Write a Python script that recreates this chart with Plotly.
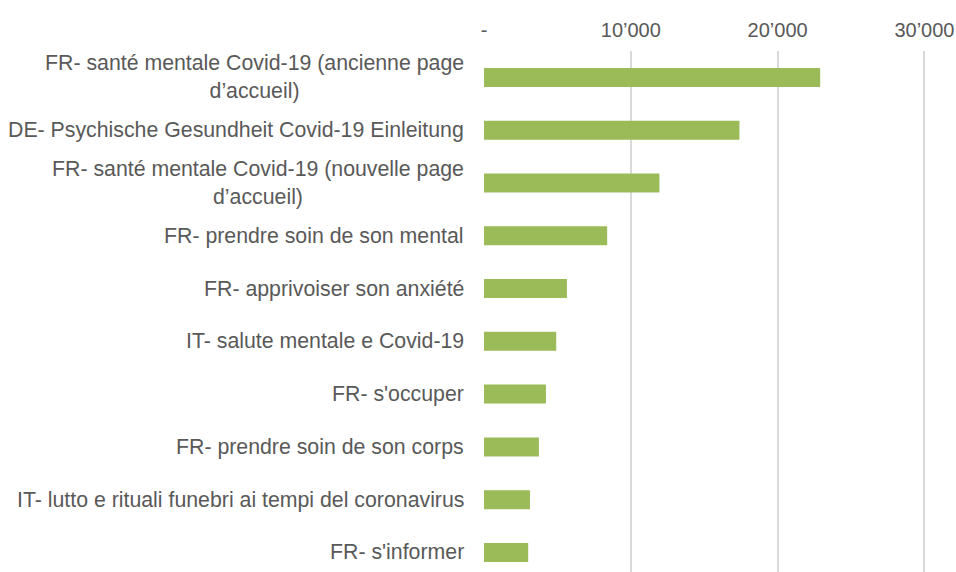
import plotly.graph_objects as go

categories = [
    "FR- santé mentale Covid-19 (ancienne page<br>d’accueil)",
    "DE- Psychische Gesundheit Covid-19 Einleitung",
    "FR- santé mentale Covid-19 (nouvelle page<br>d’accueil)",
    "FR- prendre soin de son mental",
    "FR- apprivoiser son anxiété",
    "IT- salute mentale e Covid-19",
    "FR- s'occuper",
    "FR- prendre soin de son corps",
    "IT- lutto e rituali funebri ai tempi del coronavirus",
    "FR- s'informer",
]
values = [22900, 17400, 11950, 8390, 5650, 4920, 4220, 3740, 3130, 3010]
tick_vals = [0, 10000, 20000, 30000]
tick_text = ["-", "10’000", "20’000", "30’000"]

FONT = "Liberation Sans, Arial, sans-serif"
TXT = "#595959"

fig = go.Figure()
fig.add_trace(go.Bar(
    x=values, y=list(range(len(categories))), orientation="h",
    marker=dict(color="#9BBB59", line=dict(width=0)),
    width=0.36,
))

for i, c in enumerate(categories):
    fig.add_annotation(
        x=0, xref="paper", y=i, yref="y", text=c, showarrow=False,
        xanchor="right", yanchor="middle", align="center", xshift=-18,
        font=dict(family=FONT, size=21.3, color=TXT),
    )

fig.update_layout(
    width=956, height=572,
    margin=dict(l=484, r=10, t=51, b=0),
    paper_bgcolor="white", plot_bgcolor="white",
    showlegend=False,
    font=dict(family=FONT, size=20, color=TXT),
    xaxis=dict(
        side="top", range=[0, 31470], tickvals=tick_vals, ticktext=tick_text,
        showgrid=True, gridcolor="#d9d9d9", gridwidth=1.5,
        zeroline=False, showline=False, ticks="", ticklabelstandoff=9,
        tickfont=dict(family=FONT, size=20, color=TXT),
    ),
    yaxis=dict(
        range=[9.37, -0.5], showticklabels=False, showgrid=False,
        zeroline=False, showline=False, ticks="",
    ),
)
fig.write_html("out.html", config={"displayModeBar": False},
               post_script="document.body.style.margin='0';")
